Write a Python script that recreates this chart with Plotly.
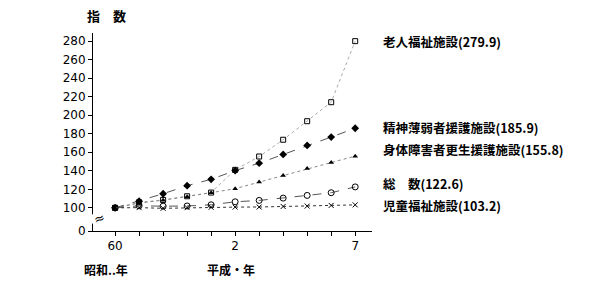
import plotly.graph_objects as go

years = [0, 1, 2, 3, 4, 5, 6, 7, 8, 9, 10]
tick_text = ["60", "", "", "", "", "2", "", "", "", "", "7"]

rojin = [100, 106, 108.5, 112.5, 116.5, 141, 155.4, 173.5, 193.5, 214, 279.9]
seishin = [100, 107.2, 115.2, 123.9, 130.8, 140.2, 148.2, 157.6, 167.4, 176.4, 185.9]
shintai = [100, 105, 108.3, 112, 116.3, 120.7, 127.9, 134.8, 142.4, 148.9, 155.8]
sosu = [100, 102.2, 101.8, 102, 103.3, 106.5, 108, 110.5, 113.4, 116.3, 122.6]
jido = [100, 100.2, 99.5, 100.2, 100.6, 100.8, 100.9, 101.5, 101.9, 102.6, 103.2]

labels = ["老人福祉施設(279.9)", "精神薄弱者援護施設(185.9)", "身体障害者更生援護施設(155.8)",
          "総　数(122.6)", "児童福祉施設(103.2)"]
label_y = [280, 187, 163, 126, 102]

ytick_vals = [75, 100, 120, 140, 160, 180, 200, 220, 240, 260, 280]
ytick_text = ["0", "100", "120", "140", "160", "180", "200", "220", "240", "260", "280"]

FONT = "Noto Sans CJK JP"

fig = go.Figure()
fig.add_trace(go.Scatter(x=years, y=rojin, mode="lines+markers",
                         line=dict(color="#aaa", width=1, dash="dot"),
                         marker=dict(symbol="square-open", size=5, color="black", line=dict(width=1))))
fig.add_trace(go.Scatter(x=years, y=shintai, mode="lines+markers",
                         line=dict(color="#888", width=1, dash="dot"),
                         marker=dict(symbol="triangle-up", size=5, color="black")))
fig.add_trace(go.Scatter(x=years, y=seishin, mode="lines+markers",
                         line=dict(color="#555", width=1, dash="dash"),
                         marker=dict(symbol="diamond", size=6, color="black")))
fig.add_trace(go.Scatter(x=years, y=sosu, mode="lines+markers",
                         line=dict(color="#555", width=1, dash="dash"),
                         marker=dict(symbol="circle-open", size=6, color="black", line=dict(width=1))))
fig.add_trace(go.Scatter(x=years, y=jido, mode="lines+markers",
                         line=dict(color="#333", width=1, dash="dot"),
                         marker=dict(symbol="x-thin-open", size=5, color="black", line=dict(width=1, color="black"))))

for t, yv in zip(labels, label_y):
    fig.add_annotation(x=0, xref="paper", xanchor="left", xshift=288, y=yv, yref="y",
                       text="<b>" + t + "</b>", showarrow=False,
                       font=dict(family=FONT, size=12.5, color="black"))

fig.add_annotation(x=0, xref="paper", y=1, yref="paper", xshift=-8, yshift=29, xanchor="left",
                   text="<b>指　数</b>", showarrow=False, font=dict(family=FONT, size=13, color="black"))
fig.add_annotation(x=0, xref="paper", y=0, yref="paper", xshift=-11, yshift=-49, xanchor="left",
                   text="<b>昭和..年</b>", showarrow=False, font=dict(family=FONT, size=12, color="black"))
fig.add_annotation(x=0, xref="paper", y=0, yref="paper", xshift=112, yshift=-49, xanchor="left",
                   text="<b>平成・年</b>", showarrow=False, font=dict(family=FONT, size=12, color="black"))

# axis break
fig.add_shape(type="rect", xref="paper", yref="y", x0=-0.02, x1=0.02, y0=83, y1=93,
              fillcolor="white", line=dict(width=0), layer="above")
fig.add_annotation(x=0, xref="paper", y=88, yref="y", text="≈", showarrow=False,
                   xshift=-4, font=dict(family="DejaVu Sans", size=13, color="black"), textangle=-20)

fig.update_layout(
    width=609, height=286,
    margin=dict(l=93, r=237, t=33, b=55),
    plot_bgcolor="white", paper_bgcolor="white",
    showlegend=False,
    font=dict(family=FONT, size=12, color="black"),
    xaxis=dict(range=[-0.92, 10.7], tickvals=years, ticktext=tick_text, ticks="outside",
               ticklen=4, tickcolor="black", showline=True, linecolor="black", linewidth=1,
               showgrid=False, zeroline=False, tickfont=dict(family="DejaVu Sans", size=12)),
    yaxis=dict(range=[75, 288.7], tickvals=ytick_vals, ticktext=ytick_text, ticks="outside",
               ticklen=4, tickcolor="black", showline=True, linecolor="black", linewidth=1,
               showgrid=False, zeroline=False, tickfont=dict(family="DejaVu Sans", size=12)),
)

fig.write_html("out.html")
